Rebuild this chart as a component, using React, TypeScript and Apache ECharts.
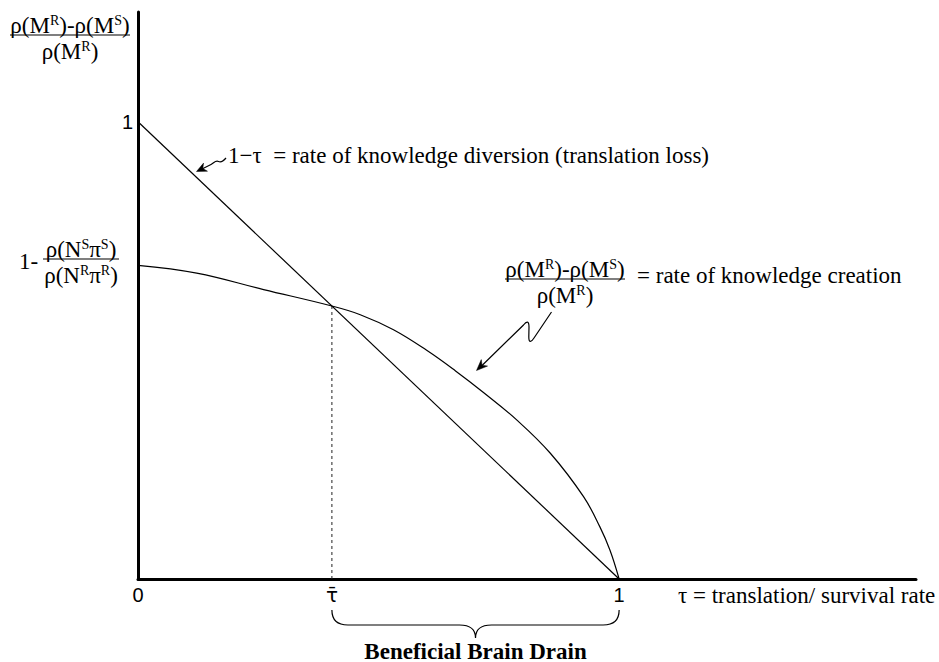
import React, { useEffect, useRef } from "react";
import * as echarts from "echarts";

// ---------- data ----------
const tauBar = 0.403;
const xMin = 0;
const xMax = 1.617;
const yMin = 0;
const yMax = 1.24;
const xTickValues = [0, tauBar, 1];
const xTickLabels = ["0", "τ̄", "1"];
const yTickValues = [1];
const yTickLabels = ["1"];
const diversionX = [0, 1];
const diversionY = [1, 0];
const creationX = [0, 0.122, 0.261, 0.403, 0.462, 0.531, 0.6, 0.66, 0.718, 0.787, 0.857, 0.926, 0.96, 0.981, 1.0];
const creationY = [0.686, 0.669, 0.633, 0.597, 0.578, 0.545, 0.5, 0.455, 0.408, 0.348, 0.275, 0.18, 0.114, 0.063, 0];
const braceRange = [tauBar, 1];

const SERIF = "Liberation Serif, Times New Roman, serif";
const SANS = "Liberation Sans, Arial, sans-serif";
const INK = "#000";
const FN = 23;
const FS = 14;

const DIV_SQUIGGLE = "M226,158 C223.5,161 221.5,163 218.5,161.5 C215.5,160 214,163 211,164.5 L201,169.5";
const CRE_ZIGZAG =
  "M551.5,312 L534,338 C531.5,342 528.8,343.5 528.8,337 L529,327 C529,320.5 526.5,321 523.5,325 L481,366.5";

let measureCtx: CanvasRenderingContext2D | null = null;
function tw(text: string, font: string) {
  if (!measureCtx) measureCtx = document.createElement("canvas").getContext("2d");
  measureCtx!.font = font;
  return measureCtx!.measureText(text).width;
}

type Seg = [string, boolean];
function supRow(x: number, y: number, segs: Seg[], align: "left" | "center" = "center") {
  const fN = `${FN}px ${SERIF}`;
  const fS = `${FS}px ${SERIF}`;
  const widths = segs.map(([t, s]) => tw(t, s ? fS : fN));
  const total = widths.reduce((a, b) => a + b, 0);
  let cx = align === "center" ? x - total / 2 : x;
  return segs.map(([t, s], i) => {
    const el = {
      type: "text",
      x: cx,
      y: s ? y - 5 : y,
      style: {
        text: t,
        font: s ? fS : fN,
        fill: INK,
        align: "left",
        verticalAlign: "middle",
      },
    };
    cx += widths[i];
    return el;
  });
}

function fraction(cx: number, lineY: number, x1: number, x2: number, top: Seg[], bottom: Seg[]) {
  return [
    ...supRow(cx, lineY - 10, top),
    {
      type: "line",
      shape: { x1, y1: lineY, x2, y2: lineY },
      style: { stroke: INK, lineWidth: 1.2 },
    },
    ...supRow(cx, lineY + 16, bottom),
  ];
}

function arrowHead(tip: number[], from: number[], len = 10, half = 4) {
  const dx = tip[0] - from[0];
  const dy = tip[1] - from[1];
  const l = Math.hypot(dx, dy);
  const ux = dx / l;
  const uy = dy / l;
  const bx = tip[0] - ux * len;
  const by = tip[1] - uy * len;
  return {
    type: "polygon",
    shape: {
      points: [
        tip,
        [bx - uy * half, by + ux * half],
        [tip[0] - ux * len * 0.7, tip[1] - uy * len * 0.7],
        [bx + uy * half, by - ux * half],
      ],
    },
    style: { fill: INK, stroke: INK, lineWidth: 0.5 },
  };
}

const MRdiff: Seg[] = [
  ["ρ(M", false],
  ["R", true],
  [")-ρ(M", false],
  ["S", true],
  [")", false],
];
const MR: Seg[] = [
  ["ρ(M", false],
  ["R", true],
  [")", false],
];
const NS: Seg[] = [
  ["ρ(N", false],
  ["S", true],
  ["π", false],
  ["S", true],
  [")", false],
];
const NR: Seg[] = [
  ["ρ(N", false],
  ["R", true],
  ["π", false],
  ["R", true],
  [")", false],
];

function annotationElements() {
  return [
    // y-axis name
    ...fraction(70, 35, 10, 130, MRdiff, MR),
    // intercept label
    ...supRow(19, 261, [["1-", false]], "left"),
    ...fraction(81, 259, 43, 119, NS, NR),
    // diversion annotation
    ...supRow(228, 155, [["1−τ  = rate of knowledge diversion (translation loss)", false]], "left"),
    { type: "path", shape: { pathData: DIV_SQUIGGLE }, style: { stroke: INK, lineWidth: 1.2, fill: "none" } },
    arrowHead([196.5, 171.5], [211, 164.5], 10, 4.5),
    // creation annotation
    ...fraction(565, 279, 505, 625, MRdiff, MR),
    ...supRow(637, 275, [["= rate of knowledge creation", false]], "left"),
    { type: "path", shape: { pathData: CRE_ZIGZAG }, style: { stroke: INK, lineWidth: 1.2, fill: "none" } },
    arrowHead([476.5, 370.5], [523.5, 325], 11, 4.5),
    // x-axis name
    ...supRow(678, 595, [["τ = translation/ survival rate", false]], "left"),
  ];
}

export default function App() {
  const ref = useRef<HTMLDivElement>(null);
  useEffect(() => {
    document.body.style.margin = "0";
    const chart = echarts.init(ref.current!, null, { renderer: "svg" });

    chart.setOption({
      animation: false,
      backgroundColor: "#fff",
      textStyle: { fontFamily: SERIF },
      grid: { left: 138, right: 23, top: 12, bottom: 83, containLabel: false, outerBoundsMode: "none" },
      xAxis: {
        type: "value",
        min: xMin,
        max: xMax,
        axisLine: { show: true, lineStyle: { color: INK, width: 3 } },
        axisTick: { show: false },
        splitLine: { show: false },
        axisLabel: {
          customValues: xTickValues,
          margin: 6,
          color: INK,
          fontSize: 20,
          fontFamily: SANS,
          formatter: (v: number) => {
            const i = xTickValues.findIndex((t) => Math.abs(t - v) < 1e-6);
            const s = i >= 0 ? xTickLabels[i] : "";
            return i === 1 ? `{tb|${s}}` : s;
          },
          rich: { tb: { fontSize: 20, fontFamily: "DejaVu Sans, sans-serif", color: INK } },
        },
      },
      yAxis: {
        type: "value",
        min: yMin,
        max: yMax,
        axisLine: { show: true, lineStyle: { color: INK, width: 3 } },
        axisTick: { show: false },
        splitLine: { show: false },
        axisLabel: {
          customValues: yTickValues,
          margin: 5,
          color: INK,
          fontSize: 20,
          fontFamily: SANS,
          formatter: (v: number) => {
            const i = yTickValues.findIndex((t) => Math.abs(t - v) < 1e-6);
            return i >= 0 ? yTickLabels[i] : "";
          },
        },
      },
      series: [
        {
          type: "line",
          name: "1-τ",
          data: diversionX.map((x, i) => [x, diversionY[i]]),
          showSymbol: false,
          lineStyle: { color: INK, width: 1.2 },
          z: 3,
        },
        {
          type: "line",
          name: "knowledge creation",
          data: creationX.map((x, i) => [x, creationY[i]]),
          smooth: 0.4,
          showSymbol: false,
          lineStyle: { color: INK, width: 1.2 },
          z: 3,
        },
        {
          type: "line",
          name: "tau bar",
          data: [
            [tauBar, 0],
            [tauBar, creationY[creationX.indexOf(tauBar)]],
          ],
          showSymbol: false,
          lineStyle: { color: "#222", width: 1, type: [3, 3] },
          z: 2,
        },
        {
          type: "custom",
          name: "brace",
          clip: false,
          data: [braceRange],
          encode: { x: [0, 1] },
          renderItem: (params: any, api: any) => {
            const p1 = api.coord([api.value(0), 0]);
            const p2 = api.coord([api.value(1), 0]);
            const x1 = p1[0];
            const x2 = p2[0];
            const y0 = p1[1];
            const top = y0 + 31;
            const mid = y0 + 46;
            const tip = y0 + 59;
            const xm = (x1 + x2) / 2;
            const r = 16;
            const d =
              `M${x1},${top} Q${x1},${mid} ${x1 + r},${mid} L${xm - r},${mid} ` +
              `Q${xm},${mid} ${xm},${tip} Q${xm},${mid} ${xm + r},${mid} ` +
              `L${x2 - r},${mid} Q${x2},${mid} ${x2},${top}`;
            return {
              type: "group",
              children: [
                {
                  type: "path",
                  shape: { pathData: d },
                  style: { fill: "none", stroke: INK, lineWidth: 1.2 },
                },
                {
                  type: "text",
                  x: xm,
                  y: y0 + 72,
                  style: {
                    text: "Beneficial Brain Drain",
                    font: `bold 23px ${SERIF}`,
                    fill: INK,
                    align: "center",
                    verticalAlign: "middle",
                  },
                },
              ],
            };
          },
        },
        {
          type: "custom",
          name: "annotations",
          clip: false,
          silent: true,
          data: [[0, 0]],
          renderItem: () => ({ type: "group", children: annotationElements() }),
          z: 5,
        },
      ],
    });
    return () => chart.dispose();
  }, []);
  return <div ref={ref} style={{ width: 939, height: 662, overflow: "hidden" }} />;
}
